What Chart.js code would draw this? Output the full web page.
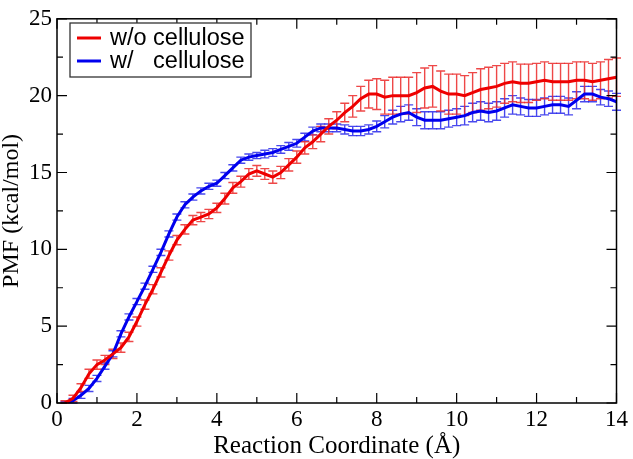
<!DOCTYPE html>
<html>
<head>
<meta charset="utf-8">
<script src="https://cdn.jsdelivr.net/npm/chart.js@4/dist/chart.umd.min.js"></script>
<style>
html,body{margin:0;padding:0;background:#fff;}
#c{display:block;}
</style>
</head>
<body>
<canvas id="c" width="633" height="459"></canvas>
<script>
// Reaction coordinate (Å)
const coord = [0.2,0.4,0.6,0.8,1.0,1.2,1.4,1.6,1.8,2.0,2.2,2.4,2.6,2.8,3.0,3.2,3.4,3.6,3.8,4.0,
  4.2,4.4,4.6,4.8,5.0,5.2,5.4,5.6,5.8,6.0,6.2,6.4,6.6,6.8,7.0,7.2,7.4,7.6,7.8,8.0,
  8.2,8.4,8.6,8.8,9.0,9.2,9.4,9.6,9.8,10.0,10.2,10.4,10.6,10.8,11.0,11.2,11.4,11.6,11.8,12.0,
  12.2,12.4,12.6,12.8,13.0,13.2,13.4,13.6,13.8,14.0];
// PMF without cellulose (kcal/mol)
const pmfWithout = [0.0,0.3,1.0,1.9,2.5,2.8,3.2,3.6,4.3,5.3,6.4,7.4,8.5,9.6,10.6,11.3,11.9,12.1,12.3,12.7,
  13.3,14.0,14.4,14.9,15.1,14.9,14.7,15.0,15.5,16.0,16.6,17.0,17.5,18.0,18.4,18.9,19.3,19.8,20.1,20.1,
  19.9,20.0,20.0,20.0,20.2,20.5,20.6,20.3,20.1,20.1,20.0,20.2,20.4,20.5,20.6,20.8,20.9,20.8,20.8,20.9,
  21.0,20.9,20.9,20.9,21.0,21.0,20.9,21.0,21.1,21.2];
const errWithout = [0.15,0.2,0.25,0.3,0.3,0.3,0.3,0.3,0.3,0.3,0.3,0.3,0.3,0.3,0.3,0.3,0.3,0.3,0.3,0.3,
  0.35,0.35,0.35,0.35,0.35,0.35,0.4,0.4,0.4,0.4,0.4,0.45,0.5,0.5,0.55,0.6,0.7,0.8,0.9,1.0,
  1.1,1.2,1.2,1.2,1.3,1.3,1.35,1.3,1.3,1.3,1.3,1.3,1.35,1.35,1.35,1.3,1.3,1.25,1.25,1.2,
  1.2,1.2,1.2,1.2,1.2,1.2,1.2,1.2,1.25,1.25];
// PMF with cellulose (kcal/mol)
const pmfWith = [0.0,0.15,0.5,0.95,1.6,2.4,3.2,4.5,5.6,6.6,7.6,8.7,9.8,11.0,12.1,12.9,13.4,13.8,14.1,14.3,
  14.8,15.3,15.8,16.0,16.1,16.2,16.3,16.5,16.7,16.9,17.3,17.7,17.9,17.9,17.9,17.8,17.7,17.7,17.8,18.0,
  18.3,18.6,18.8,18.9,18.6,18.4,18.4,18.4,18.5,18.6,18.7,18.9,19.0,18.9,19.0,19.2,19.4,19.3,19.2,19.2,
  19.3,19.4,19.4,19.3,19.7,20.1,20.1,19.9,19.8,19.6];
const errWith = [0.1,0.15,0.2,0.2,0.2,0.2,0.2,0.2,0.2,0.2,0.2,0.2,0.2,0.2,0.2,0.2,0.2,0.2,0.2,0.2,
  0.2,0.2,0.2,0.2,0.2,0.25,0.25,0.25,0.25,0.25,0.25,0.25,0.25,0.25,0.25,0.3,0.3,0.3,0.3,0.35,
  0.4,0.45,0.5,0.5,0.55,0.55,0.55,0.55,0.55,0.55,0.6,0.6,0.6,0.6,0.6,0.6,0.6,0.55,0.55,0.55,
  0.55,0.55,0.55,0.55,0.55,0.5,0.5,0.5,0.5,0.55];
const seriesLabels = ['w/o cellulose', 'w/   cellulose'];
const xTitle = 'Reaction Coordinate (Å)';
const yTitle = 'PMF (kcal/mol)';

const serif = '"Liberation Serif", "Times New Roman", serif';
const sans = '"Liberation Sans", Arial, sans-serif';

const errorBars = {
  id: 'errorBars',
  beforeDatasetsDraw(chart) {
    const {ctx, scales: {x, y}} = chart;
    const sets = [[pmfWith, errWith, 'rgba(40,40,235,0.85)'], [pmfWithout, errWithout, 'rgba(235,40,40,0.85)']];
    ctx.save();
    ctx.lineWidth = 1.4;
    for (const [vals, errs, col] of sets) {
      ctx.strokeStyle = col;
      for (let i = 0; i < coord.length; i++) {
        const px = x.getPixelForValue(coord[i]);
        const top = y.getPixelForValue(vals[i] + errs[i]);
        const bot = y.getPixelForValue(Math.max(0, vals[i] - errs[i]));
        ctx.beginPath();
        ctx.moveTo(px, top); ctx.lineTo(px, bot);
        ctx.moveTo(px - 4.5, top); ctx.lineTo(px + 4.5, top);
        ctx.moveTo(px - 4.5, bot); ctx.lineTo(px + 4.5, bot);
        ctx.stroke();
      }
    }
    ctx.restore();
  }
};

const frameTicks = {
  id: 'frameTicks',
  afterDraw(chart) {
    const {ctx, chartArea: a, scales: {x, y}} = chart;
    ctx.save();
    ctx.strokeStyle = '#000';
    ctx.lineWidth = 1.5;
    ctx.strokeRect(a.left, a.top, a.right - a.left, a.bottom - a.top);
    ctx.lineWidth = 1.2;
    ctx.beginPath();
    for (let v = 0; v <= 14; v += 1) {
      const px = x.getPixelForValue(v);
      const L = v % 2 === 0 ? 10 : 6;
      ctx.moveTo(px, a.bottom); ctx.lineTo(px, a.bottom - L);
      ctx.moveTo(px, a.top); ctx.lineTo(px, a.top + L);
    }
    for (let v = 0; v <= 25; v += 2.5) {
      const py = y.getPixelForValue(v);
      const L = v % 5 === 0 ? 10 : 6;
      ctx.moveTo(a.left, py); ctx.lineTo(a.left + L, py);
      ctx.moveTo(a.right, py); ctx.lineTo(a.right - L, py);
    }
    ctx.stroke();

    // legend box
    const bx = 70, by = 23, bw = 181, bh = 54;
    ctx.fillStyle = '#fff';
    ctx.fillRect(bx, by, bw, bh);
    ctx.strokeStyle = '#333';
    ctx.lineWidth = 1.3;
    ctx.strokeRect(bx, by, bw, bh);
    const ds = chart.data.datasets;
    ctx.font = '23.5px ' + sans;
    ctx.textBaseline = 'middle';
    ds.forEach((d, i) => {
      const ly = by + 15 + i * 23;
      ctx.strokeStyle = d.borderColor;
      ctx.lineWidth = 3;
      ctx.beginPath(); ctx.moveTo(bx + 7, ly); ctx.lineTo(bx + 31, ly); ctx.stroke();
      ctx.fillStyle = '#000';
      ctx.fillText(d.label, bx + 40, ly + 1);
    });
    ctx.restore();
  }
};

new Chart(document.getElementById('c'), {
  type: 'line',
  data: {
    datasets: [
      { label: seriesLabels[0], data: coord.map((v, i) => ({x: v, y: pmfWithout[i]})),
        borderColor: 'rgb(238,0,0)', borderWidth: 3, pointRadius: 0, tension: 0, fill: false },
      { label: seriesLabels[1], data: coord.map((v, i) => ({x: v, y: pmfWith[i]})),
        borderColor: 'rgb(0,0,238)', borderWidth: 3, pointRadius: 0, tension: 0, fill: false }
    ]
  },
  options: {
    responsive: false,
    animation: false,
    devicePixelRatio: 1,
    layout: { padding: { top: 8, right: 13, left: 0, bottom: 0 } },
    plugins: { legend: { display: false }, tooltip: { enabled: false } },
    scales: {
      x: {
        type: 'linear', min: 0, max: 14,
        grid: { display: false, drawTicks: false },
        border: { display: false },
        ticks: { stepSize: 2, color: '#000', font: { family: serif, size: 23, lineHeight: 1 }, padding: 5, maxRotation: 0 },
        title: { display: true, text: xTitle, color: '#000', font: { family: serif, size: 25, lineHeight: 1 }, padding: { top: 0, bottom: 0 } },
        afterFit(s) { s.height = 56; }
      },
      y: {
        type: 'linear', min: 0, max: 25,
        grid: { display: false, drawTicks: false },
        border: { display: false },
        ticks: { stepSize: 5, color: '#000', font: { family: serif, size: 23 }, padding: 5 },
        title: { display: true, text: yTitle, color: '#000', font: { family: serif, size: 24, lineHeight: 1 }, padding: { top: 0, bottom: 0 } },
        afterFit(s) { s.width = 57; }
      }
    }
  },
  plugins: [errorBars, frameTicks]
});
</script>
</body>
</html>
